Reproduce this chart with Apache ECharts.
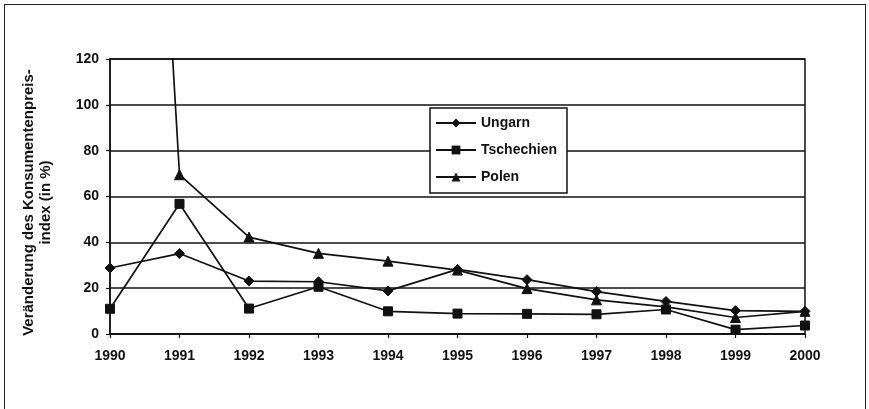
<!DOCTYPE html>
<html>
<head>
<meta charset="utf-8">
<script src="https://cdn.jsdelivr.net/npm/echarts@6/dist/echarts.min.js"></script>
<style>
  html, body { margin: 0; padding: 0; background: #fff; }
  #wrap { position: relative; width: 869px; height: 409px; overflow: hidden; }
  #chart { position: absolute; left: 0; top: 0; width: 869px; height: 409px; }
  #frame { position: absolute; left: 4px; top: 4px; width: 860px; height: 420px; border: 1.5px solid #222; pointer-events: none; }
</style>
</head>
<body>
<div id="wrap">
  <div id="chart"></div>
  <div id="frame"></div>
</div>
<script>
const years = ['1990','1991','1992','1993','1994','1995','1996','1997','1998','1999','2000'];
const ungarn = [28.8, 35.1, 23.1, 22.8, 18.8, 28.2, 23.7, 18.5, 14.2, 10.2, 9.9];
const tschechien = [11.0, 56.8, 11.1, 20.6, 9.9, 8.9, 8.8, 8.6, 10.7, 1.9, 3.7];
const polen = [585.8, 69.5, 42.3, 35.2, 31.8, 27.9, 19.8, 14.9, 11.8, 7.2, 9.9];
const yTicks = { min: 0, max: 120, interval: 20 };
const yName = 'Veränderung des Konsumentenpreis-\nindex (in %)';

const font = '"Liberation Sans", Arial, sans-serif';
const ink = '#111';

function mk(name, data, symbol, size) {
  return {
    name: name, type: 'line', data: data,
    symbol: symbol, symbolSize: size, showAllSymbol: true,
    clip: true,
    lineStyle: { color: ink, width: 1.7 },
    itemStyle: { color: ink, borderColor: ink },
    emphasis: { disabled: true },
    animation: false
  };
}

const chart = echarts.init(document.getElementById('chart'), null, { renderer: 'canvas' });
chart.setOption({
  animation: false,
  backgroundColor: '#fff',
  grid: { left: 110, right: 64, top: 59, bottom: 75, show: true, borderColor: ink, borderWidth: 1.5, backgroundColor: 'transparent' },
  legend: {
    orient: 'vertical', left: 430, top: 108,
    padding: [8, 10, 9, 5],
    itemGap: 13,
    itemWidth: 40, itemHeight: 11,
    backgroundColor: '#fff',
    borderColor: ink, borderWidth: 1.5,
    textStyle: { fontFamily: font, fontWeight: 'bold', fontSize: 14, color: ink },
    data: ['Ungarn', 'Tschechien', 'Polen'],
    selectedMode: false
  },
  xAxis: {
    type: 'category', data: years, boundaryGap: false,
    axisLine: { lineStyle: { color: ink, width: 1.5 } },
    axisTick: { show: true, alignWithLabel: true, length: 4, lineStyle: { color: ink, width: 1.2 } },
    axisLabel: { fontFamily: font, fontWeight: 'bold', fontSize: 14, color: ink, margin: 15 },
    splitLine: { show: false }
  },
  yAxis: {
    type: 'value', min: yTicks.min, max: yTicks.max, interval: yTicks.interval,
    name: yName, nameLocation: 'middle', nameRotate: 90, nameGap: 56,
    nameTextStyle: { fontFamily: font, fontWeight: 'bold', fontSize: 15, color: ink, lineHeight: 17, align: 'center', padding: [0, 0, 0, -12] },
    axisLine: { show: true, lineStyle: { color: ink, width: 1.5 } },
    axisTick: { show: true, length: 4, lineStyle: { color: ink, width: 1.2 } },
    axisLabel: { fontFamily: font, fontWeight: 'bold', fontSize: 14, color: ink, margin: 11 },
    splitLine: { show: true, lineStyle: { color: ink, width: 1.5 } }
  },
  series: [
    mk('Ungarn', ungarn, 'diamond', 10),
    mk('Tschechien', tschechien, 'rect', 9),
    mk('Polen', polen, 'triangle', 10)
  ]
});
</script>
</body>
</html>
